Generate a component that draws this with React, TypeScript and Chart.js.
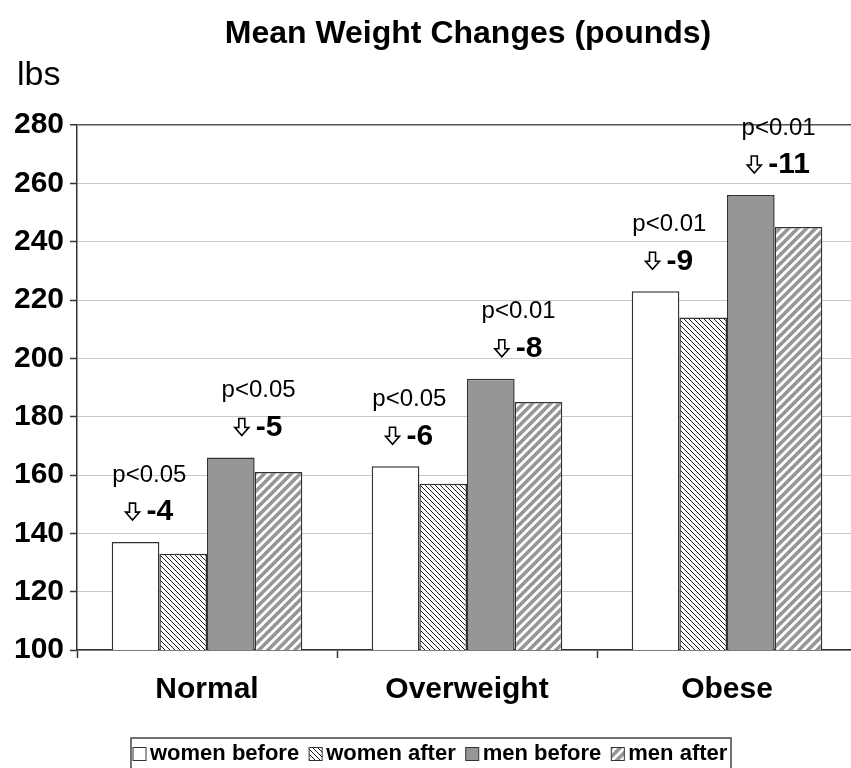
import React, { useEffect, useRef } from "react";
import { Chart, registerables } from "chart.js";

Chart.register(...registerables);

const categories = ["Normal", "Overweight", "Obese"];
const womenBefore = [137, 163, 223];
const womenAfter = [133, 157, 214];
const menBefore = [166, 193, 256];
const menAfter = [161, 185, 245];
const womenChange = [-4, -6, -9];
const menChange = [-5, -8, -11];
const womenP = ["p<0.05", "p<0.05", "p<0.01"];
const menP = ["p<0.05", "p<0.01", "p<0.01"];
const yTicks = [100, 120, 140, 160, 180, 200, 220, 240, 260, 280];
const seriesNames = ["women before", "women after", "men before", "men after"];

const FONT = '"Liberation Sans", Arial, sans-serif';
const EDGE = "#333333";
const GRAY = "#969696";

function hatch(size: number, fg: string, lw: number, dir: string): CanvasPattern {
  const c = document.createElement("canvas");
  c.width = size;
  c.height = size;
  const g = c.getContext("2d")!;
  g.fillStyle = "#ffffff";
  g.fillRect(0, 0, size, size);
  g.strokeStyle = fg;
  g.lineWidth = lw;
  g.beginPath();
  if (dir === "/") {
    for (const k of [0, size, 2 * size]) {
      g.moveTo(k + 2, -2);
      g.lineTo(k - size - 2, size + 2);
    }
  } else {
    for (const k of [-size, 0, size]) {
      g.moveTo(k - 2, -2);
      g.lineTo(k + size + 2, size + 2);
    }
  }
  g.stroke();
  return g.createPattern(c, "repeat")!;
}

function drawArrow(ctx: CanvasRenderingContext2D, cx: number, top: number) {
  const sw = 6, hw = 14, sh = 9, hh = 8;
  ctx.beginPath();
  ctx.moveTo(cx - sw / 2, top);
  ctx.lineTo(cx + sw / 2, top);
  ctx.lineTo(cx + sw / 2, top + sh);
  ctx.lineTo(cx + hw / 2, top + sh);
  ctx.lineTo(cx, top + sh + hh);
  ctx.lineTo(cx - hw / 2, top + sh);
  ctx.lineTo(cx - sw / 2, top + sh);
  ctx.closePath();
  ctx.fillStyle = "#fff";
  ctx.fill();
  ctx.strokeStyle = "#000";
  ctx.lineWidth = 1.6;
  ctx.stroke();
}

export default function App() {
  const ref = useRef<HTMLCanvasElement | null>(null);

  useEffect(() => {
    const canvas = ref.current!;
    const womenAfterPat = hatch(5, "#1a1a1a", 1, "\\");
    const menAfterPat = hatch(9, GRAY, 3.6, "/");
    const fills: (string | CanvasPattern)[] = ["#ffffff", womenAfterPat, GRAY, menAfterPat];

    const overlay = {
      id: "overlay",
      afterDraw(chart: any) {
        const ctx: CanvasRenderingContext2D = chart.ctx;
        const y = chart.scales.y;
        ctx.save();
        // title
        ctx.fillStyle = "#000";
        ctx.textAlign = "center";
        ctx.textBaseline = "alphabetic";
        ctx.font = `bold 32px ${FONT}`;
        ctx.fillText("Mean Weight Changes (pounds)", 468, 43);
        ctx.textAlign = "left";
        ctx.font = `34px ${FONT}`;
        ctx.fillText("lbs", 17, 85);

        // annotations
        const groups = [
          { before: 0, change: womenChange, p: womenP, dx: -10 },
          { before: 2, change: menChange, p: menP, dx: 4 },
        ];
        for (const gr of groups) {
          const mb = chart.getDatasetMeta(gr.before);
          mb.data.forEach((bar: any, i: number) => {
            const right = bar.x + bar.width / 2;
            const cx = right + gr.dx;
            const topPx = y.getPixelForValue(chart.data.datasets[gr.before].data[i]);
            const lineY = topPx - 31;
            const pY = lineY - 36;
            ctx.textAlign = "center";
            ctx.textBaseline = "middle";
            ctx.font = `24px ${FONT}`;
            ctx.fillStyle = "#000";
            ctx.fillText(gr.p[i], cx, pY);
            const numTxt = "-" + Math.abs(gr.change[i]);
            ctx.font = `bold 30px ${FONT}`;
            const nw = ctx.measureText(numTxt).width;
            const aw = 14, gap = 7;
            const total = aw + gap + nw;
            const x0 = cx - total / 2;
            drawArrow(ctx, x0 + aw / 2, lineY - 8);
            ctx.textAlign = "left";
            ctx.fillStyle = "#000";
            ctx.fillText(numTxt, x0 + aw + gap, lineY + 1);
          });
        }

        // legend
        ctx.strokeStyle = "#444";
        ctx.lineWidth = 1.5;
        ctx.strokeRect(131, 738, 600, 50);
        ctx.font = `bold 22px ${FONT}`;
        ctx.textBaseline = "middle";
        ctx.textAlign = "left";
        let lx = 133;
        const ly = 754;
        const box = 13;
        seriesNames.forEach((name, i) => {
          ctx.fillStyle = fills[i] as any;
          ctx.fillRect(lx, ly - box / 2, box, box);
          ctx.strokeStyle = EDGE;
          ctx.lineWidth = 1;
          ctx.strokeRect(lx, ly - box / 2, box, box);
          lx += box + 4;
          ctx.fillStyle = "#000";
          ctx.fillText(name, lx, ly);
          lx += ctx.measureText(name).width + 10;
        });
        ctx.restore();
      },
    };

    const chart = new Chart(canvas, {
      type: "bar",
      data: {
        labels: categories,
        datasets: [womenBefore, womenAfter, menBefore, menAfter].map((d, i) => ({
          label: seriesNames[i],
          data: d,
          backgroundColor: fills[i] as any,
          borderColor: EDGE,
          borderWidth: 1.5,
          borderSkipped: false,
          barPercentage: 1,
          categoryPercentage: 0.733,
        })),
      },
      options: {
        responsive: false,
        animation: false,
        layout: { padding: { left: 0, right: 3, top: 125, bottom: 58 } },
        plugins: {
          legend: { display: false },
          title: { display: false },
          tooltip: { enabled: false },
        },
        scales: {
          x: {
            type: "category",
            grid: {
              display: true,
              drawOnChartArea: false,
              offset: true,
              tickLength: 8,
              tickColor: EDGE,
              tickWidth: 1.5,
            },
            border: { color: EDGE, width: 1.5 },
            ticks: {
              color: "#000",
              font: { family: FONT, size: 30, weight: "bold" },
              padding: 14,
              maxRotation: 0,
            },
            afterFit: (s: any) => {
              s.height = 60;
            },
          },
          y: {
            min: yTicks[0],
            max: yTicks[yTicks.length - 1],
            afterBuildTicks: (s: any) => {
              s.ticks = yTicks.map((v) => ({ value: v }));
            },
            grid: {
              color: (c: any) => (c.tick && c.tick.value === 280 ? "#555555" : "#c8c8c8"),
              lineWidth: (c: any) => (c.tick && c.tick.value === 280 ? 1.5 : 1),
              tickLength: 7,
              tickColor: EDGE,
              tickWidth: 1.5,
            },
            border: { color: EDGE, width: 1.5 },
            ticks: {
              color: "#000",
              font: { family: FONT, size: 30, weight: "bold" },
              padding: 6,
            },
            afterFit: (s: any) => {
              s.width = 77;
            },
          },
        },
      },
      plugins: [overlay],
    });
    return () => chart.destroy();
  }, []);

  return (
    <div
      style={{
        position: "fixed",
        left: 0,
        top: 0,
        width: 851,
        height: 768,
        overflow: "hidden",
        background: "#fff",
      }}
    >
      <canvas ref={ref} width={860} height={768} style={{ width: 860, height: 768, display: "block" }} />
    </div>
  );
}
